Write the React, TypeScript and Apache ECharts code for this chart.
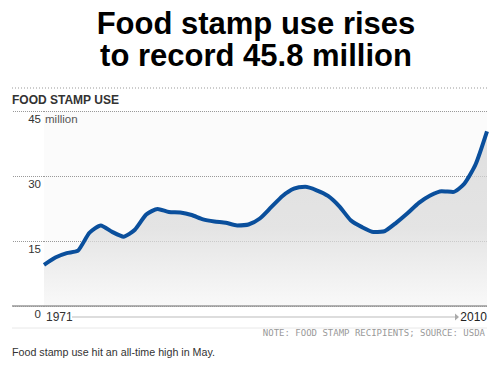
import React, { useEffect, useRef } from "react";
import * as echarts from "echarts";

const years: string[] = [];
for (let y = 1971; y <= 2010; y++) years.push(String(y));

const recipients: number[] = [
  9.5, 11.2, 12.2, 12.8, 16.9, 18.6, 17.1, 16.0, 17.6, 21.1,
  22.4, 21.7, 21.6, 21.0, 20.0, 19.5, 19.2, 18.6, 18.8, 20.2,
  22.8, 25.4, 27.1, 27.5, 26.7, 25.4, 23.0, 19.8, 18.2, 17.1,
  17.3, 19.2, 21.4, 23.8, 25.5, 26.5, 26.3, 28.2, 32.7, 40.3,
];

const yTicks = [0, 15, 30, 45];
const titleLines = ["Food stamp use rises", "to record 45.8 million"];
const chartLabel = "FOOD STAMP USE";
const unitLabel = "million";
const startLabel = "1971";
const endLabel = "2010";
const noteText = "NOTE: FOOD STAMP RECIPIENTS; SOURCE: USDA";
const captionText = "Food stamp use hit an all-time high in May.";

const FONT = '"Liberation Sans", Arial, Helvetica, sans-serif';
const W = 500;
const H = 371;
const GRID_LEFT = 44;
const GRID_RIGHT = 13;
const GRID_TOP = 111;
const GRID_BOTTOM = 65;
const BASE_Y = H - GRID_BOTTOM;

export default function App() {
  const ref = useRef<HTMLDivElement>(null);
  useEffect(() => {
    if (!ref.current) return;
    const chart = echarts.init(ref.current, undefined, { renderer: "svg" });
    const titleGraphics = titleLines.map((t, i) => ({
      type: "text",
      x: 256,
      y: 23 + i * 32,
      style: {
        text: t,
        font: `bold 31px ${FONT}`,
        lineHeight: 30,
        fill: "#000",
        align: "center",
        verticalAlign: "middle",
      },
    }));
    const option: any = {
      animation: false,
      backgroundColor: "#ffffff",
      grid: {
        left: GRID_LEFT,
        right: GRID_RIGHT,
        top: GRID_TOP,
        bottom: GRID_BOTTOM,
        show: true,
        backgroundColor: "#fbfbfb",
        borderWidth: 0,
      },
      xAxis: {
        type: "category",
        data: years,
        boundaryGap: false,
        axisLine: { show: false },
        axisTick: { show: false },
        axisLabel: { show: false },
        splitLine: { show: false },
      },
      yAxis: {
        type: "value",
        min: 0,
        max: 45,
        interval: 15,
        axisLine: { show: false },
        axisTick: {
          show: true,
          length: GRID_LEFT - 12,
          lineStyle: { color: "#999", type: "dotted", width: 1 },
        },
        axisLabel: {
          margin: 3,
          verticalAlign: "top",
          padding: [2, 0, 0, 0],
          color: "#333",
          fontFamily: FONT,
          fontSize: 11.5,
          formatter: (v: number) => (yTicks.includes(v) ? String(v) : ""),
        },
        splitLine: {
          show: true,
          lineStyle: { color: "#999", type: "dotted", width: 1 },
        },
      },
      series: [
        {
          type: "line",
          data: recipients,
          smooth: 0.2,
          symbol: "none",
          lineStyle: { color: "#0a4f9c", width: 4 },
          areaStyle: {
            origin: "start",
            color: new echarts.graphic.LinearGradient(0, 0, 0, 1, [
              { offset: 0, color: "#d4d4d4" },
              { offset: 0.55, color: "#dadada" },
              { offset: 1, color: "#f8f8f8" },
            ]),
          },
          z: 3,
        },
      ],
      graphic: [
        ...titleGraphics,
        {
          type: "line",
          shape: { x1: 12, y1: 88, x2: W - GRID_RIGHT, y2: 88 },
          style: { stroke: "#999", lineWidth: 1, lineDash: [1, 2] },
        },
        {
          type: "text",
          x: 12,
          y: 100,
          style: {
            text: chartLabel,
            font: `bold 12px ${FONT}`,
            fill: "#333",
            verticalAlign: "middle",
          },
        },
        {
          type: "text",
          x: 45,
          y: 119,
          style: {
            text: unitLabel,
            font: `11.5px ${FONT}`,
            fill: "#555",
            verticalAlign: "middle",
          },
          z: 10,
        },
        {
          type: "line",
          shape: { x1: 12, y1: BASE_Y, x2: W - GRID_RIGHT, y2: BASE_Y },
          style: { stroke: "#999", lineWidth: 1.5 },
          z: 10,
        },
        {
          type: "text",
          x: 46,
          y: 317,
          style: {
            text: startLabel,
            font: `12px ${FONT}`,
            fill: "#333",
            verticalAlign: "middle",
          },
        },
        {
          type: "line",
          shape: { x1: 72, y1: 317, x2: 455, y2: 317 },
          style: { stroke: "#bbb", lineWidth: 1 },
        },
        {
          type: "polygon",
          shape: { points: [[455, 313.5], [459, 317], [455, 320.5]] },
          style: { fill: "#aaa" },
        },
        {
          type: "text",
          x: 487,
          y: 317,
          style: {
            text: endLabel,
            font: `12px ${FONT}`,
            fill: "#222",
            align: "right",
            verticalAlign: "middle",
          },
        },
        {
          type: "line",
          shape: { x1: 12, y1: 328, x2: W - GRID_RIGHT, y2: 328 },
          style: { stroke: "#e8e8e8", lineWidth: 1 },
        },
        {
          type: "text",
          x: 485,
          y: 333,
          style: {
            text: noteText,
            font: `9px "DejaVu Sans Mono", monospace`,
            fill: "#999",
            align: "right",
            verticalAlign: "middle",
          },
        },
        {
          type: "text",
          x: 12,
          y: 352,
          style: {
            text: captionText,
            font: `10.7px ${FONT}`,
            fill: "#333",
            verticalAlign: "middle",
          },
        },
      ],
    };
    chart.setOption(option);
    return () => chart.dispose();
  }, []);
  return (
    <div
      ref={ref}
      style={{ width: W, height: H, position: "absolute", left: 0, top: 0 }}
    />
  );
}
